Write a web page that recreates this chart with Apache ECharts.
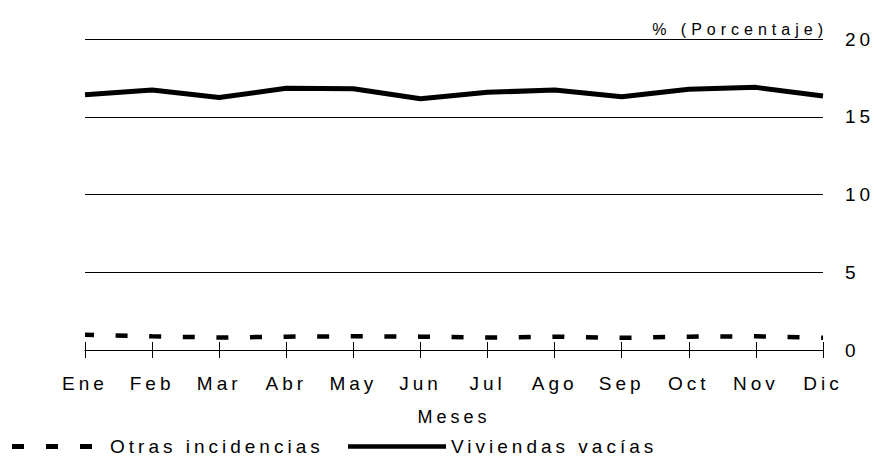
<!DOCTYPE html>
<html>
<head>
<meta charset="utf-8">
<script src="https://cdn.jsdelivr.net/npm/echarts@6/dist/echarts.min.js"></script>
<style>
  html, body { margin: 0; padding: 0; background: #fff; }
  #chart { width: 874px; height: 457px; }
  /* the original text is widely letter-spaced */
  #chart text { letter-spacing: 4px; }
  #chart text[style*="16px"] { letter-spacing: 5px; }
</style>
</head>
<body>
<div id="chart"></div>
<script>
const months = ['Ene', 'Feb', 'Mar', 'Abr', 'May', 'Jun', 'Jul', 'Ago', 'Sep', 'Oct', 'Nov', 'Dic']
const viviendasVacias = [16.42, 16.72, 16.24, 16.83, 16.8, 16.16, 16.57, 16.72, 16.29, 16.77, 16.89, 16.33]
const otrasIncidencias = [0.98, 0.88, 0.8, 0.86, 0.88, 0.86, 0.8, 0.86, 0.78, 0.86, 0.88, 0.78]
const yTicks = [0, 5, 10, 15, 20]

const font = "'Liberation Sans', Arial, sans-serif"
const chart = echarts.init(document.getElementById('chart'), null, { renderer: 'svg' })

const legendText = { fontSize: 19, color: '#000', fontFamily: font }
// three short bars, like the dashed legend key of the original
const dashIcon = 'path://M0,0h12v5h-12zM34,0h12v5h-12zM68,0h12v5h-12z'

const option = {
  animation: false,
  backgroundColor: '#fff',
  textStyle: { fontFamily: font, color: '#000' },
  grid: { left: 85, right: 51, top: 39, bottom: 107, containLabel: false },
  legend: [
    {
      data: [{ name: 'Otras incidencias', icon: dashIcon }],
      left: 12,
      top: 437,
      padding: 0,
      itemWidth: 80,
      itemHeight: 5,
      itemStyle: { color: '#000', borderWidth: 0 },
      textStyle: { ...legendText, padding: [0, 0, 0, 13] }
    },
    {
      data: [{ name: 'Viviendas vacías', icon: 'rect' }],
      left: 348,
      top: 437,
      padding: 0,
      itemWidth: 98,
      itemHeight: 4.5,
      itemStyle: { color: '#000', borderWidth: 0 },
      textStyle: legendText
    }
  ],
  xAxis: [
    {
      type: 'category',
      data: months,
      boundaryGap: false,
      name: 'Meses',
      nameLocation: 'middle',
      nameGap: 58,
      nameTextStyle: { fontSize: 18, color: '#000', fontFamily: font },
      axisLine: { lineStyle: { color: '#000', width: 1 } },
      axisTick: { show: true, length: 8, lineStyle: { color: '#000' } },
      axisLabel: { fontSize: 19, color: '#000', margin: 24, interval: 0, fontFamily: font },
      splitLine: { show: false }
    },
    {
      type: 'category',
      data: months,
      boundaryGap: false,
      position: 'bottom',
      axisLine: { show: false },
      axisTick: { show: true, inside: true, length: 8, lineStyle: { color: '#000' } },
      axisLabel: { show: false },
      splitLine: { show: false }
    }
  ],
  yAxis: {
    type: 'value',
    position: 'right',
    min: yTicks[0],
    max: yTicks[yTicks.length - 1],
    interval: 5,
    name: '% (Porcentaje)',
    nameLocation: 'end',
    nameGap: 2,
    nameTextStyle: { fontSize: 16, color: '#000', align: 'right', verticalAlign: 'bottom', fontFamily: font, padding: [0, -5, 0, 0] },
    axisLine: { show: false },
    axisTick: { show: false },
    axisLabel: { fontSize: 19, color: '#000', margin: 22, fontFamily: font },
    splitLine: { show: true, lineStyle: { color: '#000', width: 1 } }
  },
  series: [
    {
      name: 'Otras incidencias',
      type: 'line',
      data: otrasIncidencias,
      symbol: 'none',
      lineStyle: { color: '#000', width: 4.5, type: [12, 21.6], dashOffset: 2.7, cap: 'butt' },
      itemStyle: { color: '#000' }
    },
    {
      name: 'Viviendas vacías',
      type: 'line',
      data: viviendasVacias,
      symbol: 'none',
      lineStyle: { color: '#000', width: 5 },
      itemStyle: { color: '#000' }
    }
  ]
}

chart.setOption(option)
</script>
</body>
</html>
